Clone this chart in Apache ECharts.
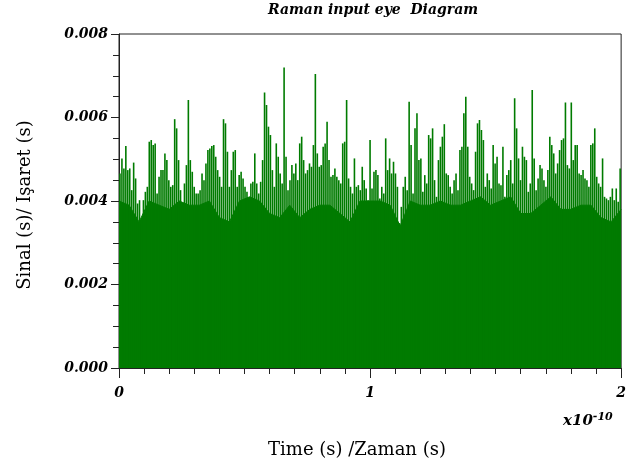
<!DOCTYPE html>
<html>
<head>
<meta charset="utf-8">
<script src="https://cdn.jsdelivr.net/npm/echarts@6/dist/echarts.min.js"></script>
<style>html,body{margin:0;padding:0;background:#fff;}#c{width:629px;height:470px;}</style>
</head>
<body>
<div id="c"></div>
<script>
// Spike tops (Sinal), left to right, in four segments of time 0..2 (x1e-10 s)
var seg1 = [0.00466,0.00502,0.00478,0.00532,0.00474,0.00478,0.00426,0.00492,0.00454,0.00394,0.00402,0.00347,0.00402,0.00422,0.00434,0.00542,0.00546,0.00534,0.00538,0.00418,0.00458,0.00474,0.00474,0.00514,0.00498,0.00450,0.00434,0.00438,0.00596,0.00574,0.00498,0.00426,0.00386,0.00442,0.00486,0.00642,0.00498,0.00470,0.00434,0.00418,0.00418,0.00426,0.00466,0.00450,0.00490,0.00522,0.00526,0.00532,0.00534,0.00506,0.00474,0.00458,0.00434,0.00596,0.00586,0.00518,0.00434,0.00474,0.00518,0.00522,0.00434,0.00462,0.00470,0.00454,0.00434,0.00422,0.00402,0.00442,0.00446];
var seg2 = [0.00514,0.00442,0.00418,0.00446,0.00498,0.00660,0.00630,0.00578,0.00558,0.00474,0.00434,0.00538,0.00506,0.00466,0.00442,0.00720,0.00506,0.00426,0.00450,0.00486,0.00466,0.00490,0.00450,0.00538,0.00554,0.00498,0.00466,0.00474,0.00490,0.00482,0.00534,0.00704,0.00514,0.00482,0.00486,0.00530,0.00538,0.00590,0.00498,0.00458,0.00462,0.00478,0.00458,0.00450,0.00442,0.00538,0.00542,0.00642,0.00454,0.00434,0.00418,0.00502,0.00434,0.00438,0.00426,0.00482,0.00450,0.00430,0.00402,0.00546,0.00430,0.00470,0.00474];
var seg3 = [0.00462,0.00406,0.00434,0.00418,0.00550,0.00474,0.00502,0.00466,0.00494,0.00466,0.00434,0.00347,0.00386,0.00434,0.00458,0.00426,0.00638,0.00534,0.00418,0.00574,0.00610,0.00498,0.00502,0.00422,0.00462,0.00442,0.00558,0.00550,0.00574,0.00450,0.00410,0.00498,0.00530,0.00554,0.00584,0.00466,0.00462,0.00434,0.00418,0.00450,0.00466,0.00426,0.00522,0.00530,0.00610,0.00650,0.00530,0.00458,0.00442,0.00426,0.00518,0.00586,0.00594,0.00570,0.00546,0.00434,0.00466,0.00450,0.00430,0.00534,0.00490,0.00506,0.00442,0.00438];
var seg4 = [0.00530,0.00410,0.00462,0.00474,0.00498,0.00442,0.00646,0.00574,0.00502,0.00450,0.00530,0.00506,0.00498,0.00422,0.00442,0.00666,0.00502,0.00426,0.00454,0.00486,0.00478,0.00450,0.00434,0.00474,0.00554,0.00534,0.00514,0.00466,0.00490,0.00522,0.00546,0.00550,0.00636,0.00486,0.00478,0.00636,0.00498,0.00534,0.00534,0.00466,0.00462,0.00474,0.00454,0.00450,0.00434,0.00534,0.00538,0.00574,0.00458,0.00442,0.00434,0.00502,0.00410,0.00406,0.00402,0.00410,0.00430,0.00402,0.00430,0.00398,0.00478];
// Solid lower band of the signal (level below which the green has no gaps), read every 0.04
var body = [0.0040,0.0039,0.0035,0.0040,0.0039,0.0038,0.0040,0.0039,0.0039,0.0040,0.0036,0.0035,0.0040,
            0.0041,0.0040,0.0037,0.0036,0.0039,0.0036,0.0038,0.0039,0.0039,0.0037,0.0035,0.0040,0.0040,
            0.0040,0.0039,0.0034,0.0040,0.0039,0.0039,0.0040,0.0039,0.0039,0.0040,0.0041,0.0039,0.0040,
            0.0041,0.0037,0.0037,0.0039,0.0041,0.0038,0.0038,0.0039,0.0039,0.0036,0.0035,0.0038];
var xTicks = [0, 1, 2];
var yTicks = [0.000, 0.002, 0.004, 0.006, 0.008];

var signal = seg1.concat(seg2, seg3, seg4);
var sampleIdx = signal.map(function (v, i) { return i; });
var bodyIdx = body.map(function (v, i) { return i; });

var chart = echarts.init(document.getElementById('c'), null, {renderer: 'canvas'});
var tickFont = {fontFamily: 'DejaVu Serif', fontStyle: 'italic', fontWeight: 'bold', fontSize: 14, color: '#000'};
var green = '#007b00';
chart.setOption({
  animation: false,
  backgroundColor: '#fff',
  grid: {left: 119, right: 6, top: 34, bottom: 102, show: true, borderColor: '#222', borderWidth: 1, backgroundColor: 'transparent'},
  xAxis: [
    {type: 'category', data: sampleIdx, show: false, boundaryGap: true},
    {type: 'value', min: xTicks[0], max: xTicks[xTicks.length - 1], interval: 1, position: 'bottom',
     axisLine: {show: true, onZero: false, lineStyle: {color: '#222', width: 1}},
     axisTick: {show: true, length: 10, lineStyle: {color: '#222'}},
     minorTick: {show: true, splitNumber: 10, length: 6, lineStyle: {color: '#222'}},
     splitLine: {show: false},
     axisLabel: Object.assign({margin: 18, formatter: function (v) { return String(v); }}, tickFont)},
    {type: 'category', data: bodyIdx, show: false, boundaryGap: false}
  ],
  yAxis: {type: 'value', min: yTicks[0], max: yTicks[yTicks.length - 1], interval: 0.002,
    axisLine: {show: true, lineStyle: {color: '#222', width: 1}},
    axisTick: {show: true, length: 8, lineStyle: {color: '#222'}},
    minorTick: {show: true, splitNumber: 4, length: 6, lineStyle: {color: '#222'}},
    splitLine: {show: false},
    axisLabel: Object.assign({margin: 11, formatter: function (v) { return v.toFixed(3); }}, tickFont)},
  series: [
    {type: 'line', xAxisIndex: 2, data: body, symbol: 'none', z: 1,
     lineStyle: {color: green, width: 1}, areaStyle: {color: green, opacity: 1}, silent: true},
    {type: 'bar', xAxisIndex: 0, data: signal, barWidth: 1.6, z: 2,
     itemStyle: {color: green}, silent: true}
  ],
  graphic: [
    {type: 'text', x: 373, y: 10, style: {text: 'Raman input eye  Diagram', fontFamily: 'DejaVu Serif', fontStyle: 'italic', fontWeight: 'bold', fontSize: 14, fill: '#000', align: 'center', verticalAlign: 'middle'}, z: 10},
    {type: 'text', x: 563, y: 412, style: {text: '{a|x10}{b|-10}', rich: {a: {fontFamily: 'DejaVu Serif', fontStyle: 'italic', fontWeight: 'bold', fontSize: 15, fill: '#000'}, b: {fontFamily: 'DejaVu Serif', fontStyle: 'italic', fontWeight: 'bold', fontSize: 11, fill: '#000', verticalAlign: 'top', padding: [0, 0, 8, 0]}}}, z: 10},
    {type: 'text', x: 357, y: 450, style: {text: 'Time (s) /Zaman (s)', fontFamily: 'DejaVu Serif', fontSize: 18, fill: '#000', align: 'center', verticalAlign: 'middle'}, z: 10},
    {type: 'text', x: 25, y: 205, rotation: Math.PI / 2, style: {text: 'Sinal (s)/ Işaret (s)', fontFamily: 'DejaVu Serif', fontSize: 18, fill: '#000', align: 'center', verticalAlign: 'middle'}, z: 10}
  ]
});
</script>
</body>
</html>
